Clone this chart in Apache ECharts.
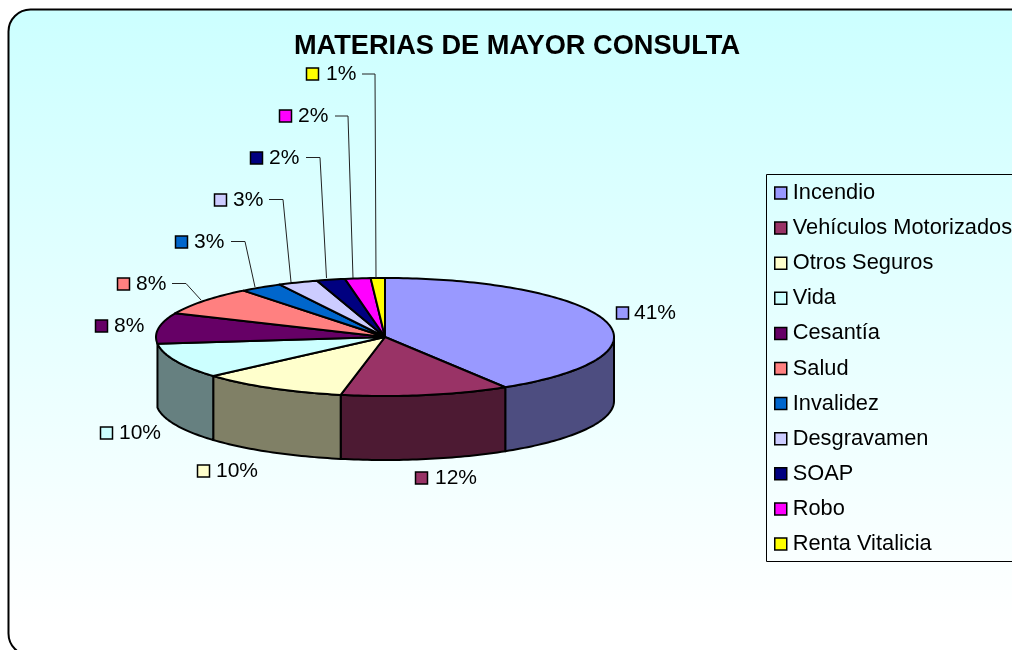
<!DOCTYPE html>
<html><head><meta charset="utf-8">
<style>html,body{margin:0;padding:0;background:#fff}#c{width:1012px;height:650px}</style>
<script src="https://cdn.jsdelivr.net/npm/echarts@6/dist/echarts.min.js"></script>
</head><body><div id="c"></div>
<script>
const categories = ['Incendio','Vehículos Motorizados','Otros Seguros','Vida','Cesantía','Salud','Invalidez','Desgravamen','SOAP','Robo','Renta Vitalicia'];
const shares = [41.2,11.9,10.4,9.7,8.4,7.8,3,2.8,2,1.8,1];
const colors = ['#9999FF','#993366','#FFFFCC','#CCFFFF','#660066','#FF8080','#0066CC','#CCCCFF','#000080','#FF00FF','#FFFF00'];
// label layout: swatch left, centre y, text left; optional leader polyline
const labelLayout = [
 {sx:616,y:313,tx:634},
 {sx:415,y:478,tx:435},
 {sx:197,y:471,tx:216},
 {sx:100,y:433,tx:119},
 {sx:95,y:326,tx:114},
 {sx:117,y:284,tx:136,lead:[[172,283.5],[186,283.5],[201,300]]},
 {sx:175,y:242,tx:194,lead:[[231,241.5],[245,241.5],[255,287]]},
 {sx:214,y:200,tx:233,lead:[[269,199.5],[283,199.5],[291,282]]},
 {sx:250,y:158,tx:269,lead:[[306,157.5],[320,157.5],[326.5,278]]},
 {sx:279,y:116,tx:298,lead:[[335,116],[348,116],[353,278]]},
 {sx:306,y:74,tx:326,lead:[[362,74],[375,74],[376,278]]}
];
const cx=385, cy=337, rx=229, ry=59, depth=64;
const total = shares.reduce((a,b)=>a+b,0);
const pt=(a,dy)=>[cx+rx*Math.sin(a), cy-ry*Math.cos(a)+(dy||0)];
const startAngles=[]; let acc=0;
shares.forEach(v=>{startAngles.push(acc/total*2*Math.PI); acc+=v;});
const shade=c=>{const n=parseInt(c.slice(1),16);return 'rgb('+[(n>>16)&255,(n>>8)&255,n&255].map(v=>Math.round(v/2)).join(',')+')';};
const arc=(a0,a1,dy)=>{const n=Math.max(2,Math.ceil((a1-a0)/0.02)),p=[];for(let i=0;i<=n;i++)p.push(pt(a0+(a1-a0)*i/n,dy));return p;};

const wallSeries=categories.map((name,i)=>({
  type:'custom',name:'_w'+i,coordinateSystem:'none',z:2,silent:true,animation:false,
  data:[[shares[i]]],
  renderItem:(params,api)=>{
    const a0=startAngles[i], a1=a0+api.value(0)/total*2*Math.PI;
    const s=Math.max(a0,Math.PI/2), e=Math.min(a1,Math.PI*1.5);
    if(e-s<0.15) return {type:'group',children:[]};
    const points=arc(s,e,0).concat(arc(s,e,depth).reverse());
    return {type:'polygon',shape:{points},style:{fill:shade(colors[i]),stroke:'#000',lineWidth:2,lineJoin:'round'}};
  }
}));
const topSeries=categories.map((name,i)=>({
  type:'custom',name,coordinateSystem:'none',z:3,silent:true,animation:false,
  itemStyle:{color:colors[i]},
  data:[[shares[i]]],
  renderItem:(params,api)=>{
    const v=api.value(0), a0=startAngles[i], a1=a0+v/total*2*Math.PI, L=labelLayout[i];
    const kids=[{type:'polygon',shape:{points:[[cx,cy]].concat(arc(a0,a1,0))},style:{fill:colors[i],stroke:'#000',lineWidth:2,lineJoin:'round'}}];
    if(L.lead) kids.push({type:'polyline',shape:{points:L.lead},style:{fill:'none',stroke:'#222',lineWidth:1}});
    kids.push({type:'rect',shape:{x:L.sx+.5,y:L.y-6,width:12,height:12},style:{fill:colors[i],stroke:'#000',lineWidth:1.5}});
    kids.push({type:'text',x:L.tx,y:L.y+.5,style:{text:Math.round(v/total*100)+'%',font:'21px "Liberation Sans"',fill:'#000',textAlign:'left',textVerticalAlign:'middle'}});
    return {type:'group',children:kids};
  }
}));
const chart=echarts.init(document.getElementById('c'),null,{renderer:'canvas'});
chart.setOption({
  animation:false,
  title:{text:'MATERIAS DE MAYOR CONSULTA',left:517,top:33,textAlign:'center',padding:0,
    textStyle:{fontFamily:'Liberation Sans',fontSize:27.2,fontWeight:'bold',color:'#000'}},
  legend:{data:categories,orient:'vertical',left:774,top:182,padding:0,icon:'rect',itemWidth:12,itemHeight:12,itemGap:13.1,
    itemStyle:{borderColor:'#000',borderWidth:1.5},
    textStyle:{fontFamily:'Liberation Sans',fontSize:21.8,color:'#000',padding:[0,0,0,1]},selectedMode:false},
  graphic:[
    {type:'rect',z:-10,silent:true,shape:{x:8.5,y:9.5,width:1024,height:646,r:22},
     style:{fill:new echarts.graphic.LinearGradient(0,0,0,1,[{offset:0,color:'#CCFFFF'},{offset:.95,color:'#FFFFFF'},{offset:1,color:'#FFFFFF'}]),stroke:'#000',lineWidth:2}},
    {type:'rect',z:-9,silent:true,shape:{x:766.5,y:174.5,width:300,height:387},style:{fill:'rgba(0,0,0,0)',stroke:'#000',lineWidth:1}}
  ],
  series:wallSeries.concat(topSeries)
});
</script></body></html>
